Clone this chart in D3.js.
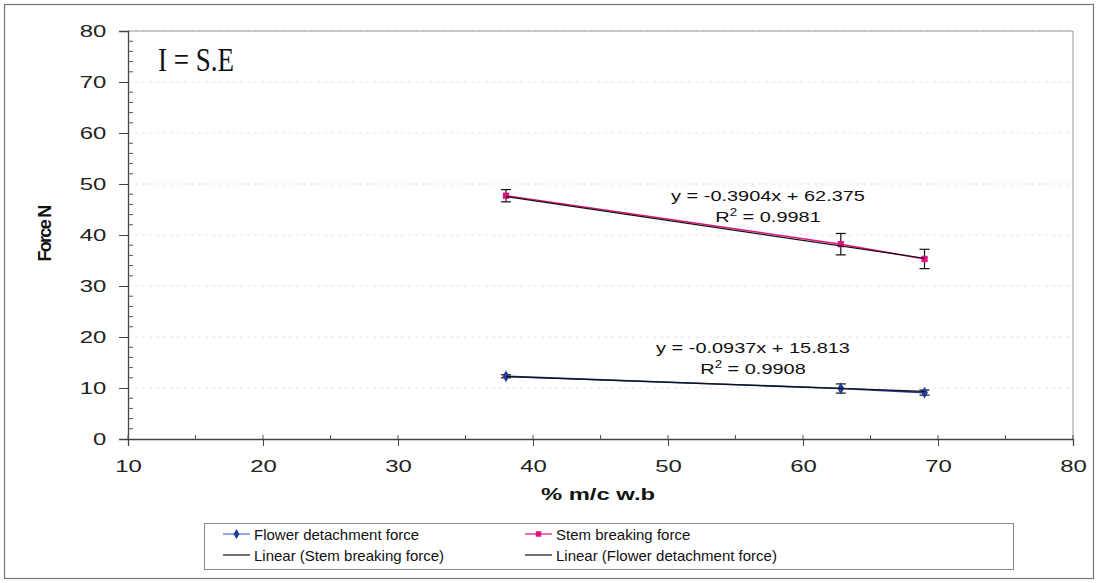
<!DOCTYPE html>
<html><head><meta charset="utf-8">
<script src="https://cdn.jsdelivr.net/npm/d3@7"></script>
<style>body{margin:0;background:#fff;}svg{display:block;font-family:"Liberation Sans",Arial,sans-serif;}</style>
</head><body><svg id="c" width="1098" height="583"></svg>
<script>
const moisture = [38.0, 62.8, 69.0];
const flowerForce = [12.3, 9.9, 9.1];
const flowerErr = [0.3, 0.9, 0.5];
const stemForce = [47.7, 38.2, 35.3];
const stemErr = [1.2, 2.1, 1.9];
const stemFit = {slope: -0.3904, intercept: 62.375, r2: "0.9981", label: "y = -0.3904x + 62.375"};
const flowerFit = {slope: -0.0937, intercept: 15.813, r2: "0.9908", label: "y = -0.0937x + 15.813"};
const xTicks = [10, 20, 30, 40, 50, 60, 70, 80];
const yTicks = [0, 10, 20, 30, 40, 50, 60, 70, 80];
const legendItems = ["Flower detachment force", "Stem breaking force", "Linear (Stem breaking force)", "Linear (Flower detachment force)"];

const svg = d3.select("#c");
const L = 128, R = 1073, T = 31, B = 439;
const x = d3.scaleLinear().domain([10, 80]).range([L, R]);
const y = d3.scaleLinear().domain([0, 80]).range([B, T]);

// outer border
svg.append("rect").attr("x", 4.5).attr("y", 4.5).attr("width", 1089).attr("height", 574)
  .attr("fill", "none").attr("stroke", "#777").attr("stroke-width", 1.2);

// gridlines
svg.append("g").selectAll("line").data(yTicks.filter(d => d > 0)).join("line")
  .attr("x1", L).attr("x2", R).attr("y1", d => y(d)).attr("y2", d => y(d))
  .attr("stroke", "#ddd").attr("stroke-width", 0.8).attr("stroke-dasharray", "3,4");

// plot border right/top
svg.append("path").attr("d", `M${L},${T}H${R}V${B}`).attr("fill", "none").attr("stroke", "#999").attr("stroke-width", 1);

// axes
const SX = 1.45;
const xAxis = svg.append("g").attr("transform", `translate(0,${B})`)
  .call(d3.axisBottom(x).tickValues(xTicks).tickSize(7).tickPadding(14));
const yAxis = svg.append("g").attr("transform", `translate(${L},0)`)
  .call(d3.axisLeft(y).tickValues(yTicks).tickSize(9).tickPadding(6));
[xAxis, yAxis].forEach(g => {
  g.select(".domain").attr("stroke", "#444").attr("stroke-width", 1.3);
  g.selectAll(".tick line").attr("stroke", "#444");
  g.selectAll(".tick text").attr("font-size", 16.5).attr("fill", "#222")
    .attr("font-family", "Liberation Sans, Arial, sans-serif").attr("transform", `scale(${SX},1)`);
});
// minor ticks
const yMinor = d3.range(0, 81, 2).filter(d => d % 10 !== 0);
svg.append("g").selectAll("line").data(yMinor).join("line")
  .attr("x1", L).attr("x2", L + 5).attr("y1", d => y(d)).attr("y2", d => y(d)).attr("stroke", "#555");
const xMinor = d3.range(15, 80, 10);
svg.append("g").selectAll("line").data(xMinor).join("line")
  .attr("x1", d => x(d)).attr("x2", d => x(d)).attr("y1", B).attr("y2", B - 4).attr("stroke", "#555");
svg.append("g").selectAll("line").data(xTicks).join("line")
  .attr("x1", d => x(d)).attr("x2", d => x(d)).attr("y1", B).attr("y2", B - 4).attr("stroke", "#555");

// axis labels
svg.append("text").attr("transform", "translate(598,500) scale(1.4,1)").attr("text-anchor", "middle")
  .attr("font-size", 17).attr("font-weight", "bold").attr("fill", "#111").text("% m/c w.b");
svg.append("text").attr("transform", `translate(51,234) rotate(-90)`).attr("text-anchor", "middle")
  .attr("font-size", 18).attr("font-weight", "bold").attr("letter-spacing", -1.7).attr("fill", "#111").text("Force N");

// annotation
svg.append("text").attr("transform", "translate(158,71) scale(1,1.28)").attr("font-family", "Liberation Serif, Times New Roman, serif")
  .attr("font-size", 27).attr("fill", "#111").text("I = S.E");

// series
const line = d3.line().x(d => x(d[0])).y(d => y(d[1]));
function drawSeries(vals, errs, color, marker) {
  const pts = moisture.map((m, i) => [m, vals[i]]);
  svg.append("path").datum(pts).attr("d", line).attr("fill", "none").attr("stroke", color).attr("stroke-width", 1.6);
  const g = svg.append("g");
  moisture.forEach((m, i) => {
    const cx = x(m), y1 = y(vals[i] + errs[i]), y2 = y(vals[i] - errs[i]);
    g.append("line").attr("x1", cx).attr("x2", cx).attr("y1", y1).attr("y2", y2).attr("stroke", "#111").attr("stroke-width", 1.2);
    g.append("line").attr("x1", cx - 5).attr("x2", cx + 5).attr("y1", y1).attr("y2", y1).attr("stroke", "#111").attr("stroke-width", 1.2);
    g.append("line").attr("x1", cx - 5).attr("x2", cx + 5).attr("y1", y2).attr("y2", y2).attr("stroke", "#111").attr("stroke-width", 1.2);
  });
  g.selectAll("path.m").data(pts).join("path").attr("class", "m")
    .attr("transform", d => `translate(${x(d[0])},${y(d[1])})`)
    .attr("d", d3.symbol(marker, 40)).attr("fill", color);
}
function drawFit(fit) {
  const ends = [moisture[0], moisture[moisture.length - 1]].map(m => [m, fit.slope * m + fit.intercept]);
  svg.append("path").datum(ends).attr("d", line).attr("fill", "none").attr("stroke", "#111").attr("stroke-width", 1.2);
}
drawSeries(stemForce, stemErr, "#e0147f", d3.symbolSquare);
drawFit(stemFit);
drawSeries(flowerForce, flowerErr, "#1f3d99", d3.symbolDiamond);
drawFit(flowerFit);

// equations
function eq(fit, cx, cy) {
  svg.append("text").attr("transform", `translate(${cx},${cy}) scale(1.33,1)`).attr("text-anchor", "middle")
    .attr("font-size", 15).attr("fill", "#111").text(fit.label);
  const t = svg.append("text").attr("transform", `translate(${cx},${cy + 21}) scale(1.33,1)`).attr("text-anchor", "middle")
    .attr("font-size", 15).attr("fill", "#111");
  t.append("tspan").text("R");
  t.append("tspan").attr("dy", -6).attr("font-size", 10).text("2");
  t.append("tspan").attr("dy", 6).text(" = " + fit.r2);
}
eq(stemFit, 768, 201);
eq(flowerFit, 753, 353);

// legend
svg.append("rect").attr("x", 204.5).attr("y", 523.5).attr("width", 809).attr("height", 46)
  .attr("fill", "#fff").attr("stroke", "#888");
const legCols = [223, 525], legRows = [534, 555];
const legColors = ["#1f3d99", "#e0147f", "#111", "#111"];
const legMarkers = [d3.symbolDiamond, d3.symbolSquare, null, null];
legendItems.forEach((txt, i) => {
  const lx = legCols[i % 2], ly = legRows[Math.floor(i / 2)];
  svg.append("line").attr("x1", lx).attr("x2", lx + 27).attr("y1", ly).attr("y2", ly)
    .attr("stroke", i < 2 ? (i === 0 ? "#4a6fc0" : "#e0147f") : "#111").attr("stroke-width", 1.2);
  if (legMarkers[i]) svg.append("path").attr("transform", `translate(${lx + 13.5},${ly})`)
    .attr("d", d3.symbol(legMarkers[i], 30)).attr("fill", legColors[i]);
  svg.append("text").attr("x", lx + 31).attr("y", ly + 5.5).attr("font-size", 15).attr("fill", "#111").text(txt);
});
</script></body></html>
